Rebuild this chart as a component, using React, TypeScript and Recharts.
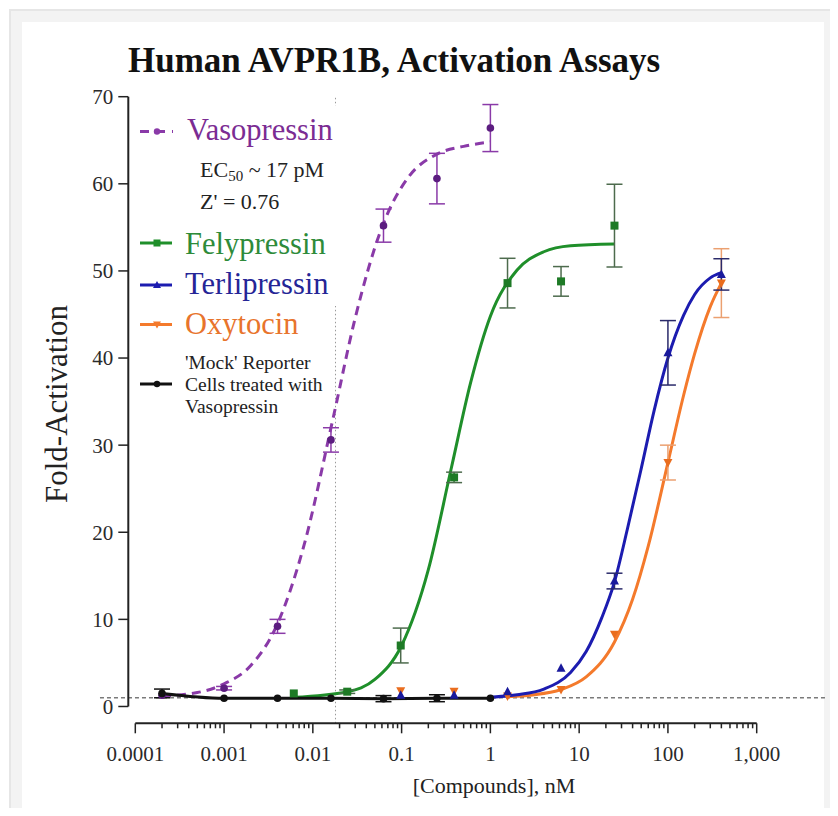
import {
  ComposedChart,
  Line,
  Scatter,
  XAxis,
  YAxis,
  ErrorBar,
  ReferenceLine,
} from "recharts";

const FONT = "'Liberation Serif', 'Times New Roman', serif";

// axis ranges (x is log, nM)
const X_MIN = 0.0000834;
const X_MAX = 1000;
const Y_MIN = -1.93;
const Y_MAX = 70;

const Y_TICKS = [0, 10, 20, 30, 40, 50, 60, 70];
const X_MAJOR = [0.0001, 0.001, 0.01, 0.1, 1, 10, 100, 1000];
const X_LABELS = ["0.0001", "0.001", "0.01", "0.1", "1", "10", "100", "1,000"];
const MINOR_STEPS = [1, 2, 3, 4, 5, 6, 7, 8, 9];

const EC50_X = 0.018;
const BASELINE_Y = 1;

// Vasopressin
const VASO_X = [0.0002, 0.001, 0.004, 0.016, 0.0625, 0.25, 1];
const VASO_Y = [1.3, 2.1, 9.2, 30.6, 55.2, 60.6, 66.4];
const VASO_ERR = [0, 0.2, 0.8, 1.4, 1.9, 2.9, 2.7];
const VASO_FIT_X = [0.0002, 0.0005, 0.001, 0.002, 0.004, 0.008, 0.017, 0.03, 0.06, 0.12, 0.25, 0.5, 1];
const VASO_FIT_Y = [1.2, 1.6, 2.6, 4.7, 9.5, 18.6, 33.2, 44.6, 55.0, 60.8, 63.4, 64.3, 64.8];

// Felypressin
const FELY_X = [0.0061, 0.0244, 0.0977, 0.39, 1.56, 6.25, 25];
const FELY_Y = [1.5, 1.7, 7.0, 26.3, 48.6, 48.8, 55.2];
const FELY_ERR = [0, 0.2, 2.0, 0.6, 2.85, 1.7, 4.75];
const FELY_FIT_X = [0.0061, 0.0244, 0.05, 0.1, 0.2, 0.36, 0.6, 1, 2, 4, 8, 25];
const FELY_FIT_Y = [1.05, 1.7, 3.1, 7.0, 15.7, 27.2, 37.2, 44.8, 50.1, 52.2, 52.9, 53.1];

// Terlipressin
const TERL_X = [0.0977, 0.39, 1.56, 6.25, 25, 100, 400];
const TERL_Y = [1.3, 1.3, 1.7, 4.4, 14.4, 40.6, 49.6];
const TERL_ERR = [0, 0, 0, 0, 0.9, 3.7, 1.8];
const TERL_FIT_X = [1, 2, 4, 8, 12, 18, 25, 35, 50, 70, 100, 150, 200, 300, 400];
const TERL_FIT_Y = [1.07, 1.35, 2.0, 3.9, 6.3, 10.2, 14.3, 20.4, 27.3, 34.0, 40.0, 44.9, 47.3, 49.2, 49.8];

// Oxytocin
const OXY_X = [0.0977, 0.39, 1.56, 6.25, 25, 100, 400];
const OXY_Y = [1.8, 1.75, 1.2, 1.95, 8.3, 28.0, 48.6];
const OXY_ERR = [0, 0, 0, 0, 0, 2.0, 3.95];
const OXY_FIT_X = [1.56, 3, 6.25, 12, 25, 40, 60, 100, 150, 200, 300, 400];
const OXY_FIT_Y = [1.13, 1.33, 1.95, 3.4, 7.4, 12.3, 18.4, 28.0, 35.7, 40.5, 45.9, 48.6];

// 'Mock' reporter cells treated with vasopressin
const MOCK_X = [0.0002, 0.001, 0.004, 0.016, 0.0625, 0.25, 1];
const MOCK_Y = [1.5, 0.95, 0.95, 0.95, 0.9, 0.95, 0.95];
const MOCK_ERR = [0.5, 0, 0, 0, 0.35, 0.4, 0];

const COLORS = {
  vaso: "#8a3aa8",
  vasoDot: "#5c1d80",
  vasoText: "#7b2c93",
  fely: "#1f8f2a",
  felyDot: "#1e7a26",
  felyErr: "#4d6b4d",
  felyText: "#2e8b3a",
  terl: "#1c1cb0",
  terlDot: "#1a1a9c",
  terlErr: "#2a2a6a",
  terlText: "#252596",
  oxy: "#f47a2c",
  oxyDot: "#ea6d1e",
  oxyErr: "#eba070",
  oxyText: "#e8742c",
  mock: "#111111",
  axis: "#222222",
};

const pts = (xs: number[], ys: number[], errs?: number[]) =>
  xs.map((x, i) => ({ x, y: ys[i], err: errs ? errs[i] : 0 }));

const X_TICKS = X_MAJOR.flatMap((d, i) =>
  i === X_MAJOR.length - 1 ? [d] : MINOR_STEPS.map((m) => m * d)
);

function XTick(props: any) {
  const { x, y, payload } = props;
  const v = payload.value;
  const idx = X_MAJOR.findIndex((m) => Math.abs(v / m - 1) < 1e-6);
  const len = idx >= 0 ? 10 : 5;
  return (
    <g>
      <line x1={x} x2={x} y1={y} y2={y + len} stroke={COLORS.axis} strokeWidth={1.5} />
      {idx >= 0 && (
        <text x={x} y={y + 30} dy="0.355em" textAnchor="middle" fontSize={21} fontFamily={FONT} fill="#2a2a2a">
          {X_LABELS[idx]}
        </text>
      )}
    </g>
  );
}

const circleShape = (c: string) => (p: any) => <circle cx={p.cx} cy={p.cy} r={3.8} fill={c} />;
const squareShape = (c: string) => (p: any) => (
  <rect x={p.cx - 4} y={p.cy - 4} width={8} height={8} fill={c} />
);
const triUpShape = (c: string) => (p: any) => (
  <polygon points={`${p.cx},${p.cy - 5} ${p.cx + 4.5},${p.cy + 3.5} ${p.cx - 4.5},${p.cy + 3.5}`} fill={c} />
);
const triDownShape = (c: string) => (p: any) => (
  <polygon points={`${p.cx},${p.cy + 5} ${p.cx + 4.5},${p.cy - 3.5} ${p.cx - 4.5},${p.cy - 3.5}`} fill={c} />
);

function LegendRow({ y, color, label, dashed, marker }: any) {
  return (
    <g>
      {dashed ? (
        <line x1={140} x2={173} y1={y} y2={y} stroke={color} strokeWidth={3} strokeDasharray="9 7" />
      ) : (
        <line x1={140} x2={172} y1={y} y2={y} stroke={color} strokeWidth={3} />
      )}
      {marker === "circle" && <circle cx={157} cy={y} r={3.2} fill={color} />}
      {marker === "square" && <rect x={153.5} y={y - 3.5} width={7} height={7} fill={color} />}
      {marker === "up" && <polygon points={`157,${y - 4} 161,${y + 3} 153,${y + 3}`} fill={color} />}
      {marker === "down" && <polygon points={`157,${y + 4} 161,${y - 3} 153,${y - 3}`} fill={color} />}
      {label}
    </g>
  );
}

export default function App() {
  return (
    <div style={{ position: "relative", width: 838, height: 816, margin: -8, background: "#fff", overflow: "hidden" }}>
      {/* frame */}
      <div style={{ position: "absolute", left: 9, top: 9, width: 829, height: 807, background: "#f3f3f3", borderTop: "2px solid #e6e6e6", borderLeft: "2px solid #e6e6e6", boxSizing: "border-box" }} />
      <div style={{ position: "absolute", left: 22, top: 22, width: 802, height: 794, background: "#fff" }} />

      <div style={{ position: "absolute", left: 0, top: 0 }}>
        <ComposedChart width={838} height={816} margin={{ top: 96.7, right: 81.3, bottom: 32.7, left: 68.3 }}>
          <XAxis
            dataKey="x"
            type="number"
            scale="log"
            domain={[X_MIN, X_MAX]}
            allowDataOverflow
            ticks={X_TICKS}
            interval={0}
            tick={<XTick />}
            tickSize={0}
            tickMargin={0}
            tickLine={false}
            axisLine={false}
            height={60}
          />
          <YAxis
            type="number"
            domain={[Y_MIN, Y_MAX]}
            allowDataOverflow
            ticks={Y_TICKS}
            interval={0}
            width={60}
            axisLine={false}
            tickSize={10}
            tickMargin={5}
            tickLine={{ stroke: COLORS.axis, strokeWidth: 1.5 }}
            tick={{ fill: "#2a2a2a", fontSize: 21, fontFamily: FONT }}
          />

          {/* reference lines */}
          <ReferenceLine
            segment={[{ x: 0.00004, y: BASELINE_Y }, { x: 6000, y: BASELINE_Y }]}
            ifOverflow="visible"
            stroke="#7a7a7a"
            strokeWidth={1.5}
            strokeDasharray="4 3"
          />
          <ReferenceLine
            segment={[{ x: EC50_X, y: Y_MIN }, { x: EC50_X, y: Y_MAX }]}
            ifOverflow="visible"
            stroke="#9a9a9a"
            strokeWidth={1}
            strokeDasharray="1.5 2.5"
          />
          {/* axis lines */}
          <ReferenceLine
            segment={[{ x: 0.0001, y: Y_MIN }, { x: 1000, y: Y_MIN }]}
            ifOverflow="visible"
            stroke={COLORS.axis}
            strokeWidth={2}
          />
          <ReferenceLine
            segment={[{ x: X_MIN, y: 0 }, { x: X_MIN, y: Y_MAX }]}
            ifOverflow="visible"
            stroke={COLORS.axis}
            strokeWidth={2}
          />

          {/* fitted curves */}
          <Line data={pts(OXY_FIT_X, OXY_FIT_Y)} dataKey="y" type="monotone" stroke={COLORS.oxy} strokeWidth={3} dot={false} activeDot={false} isAnimationActive={false} />
          <Line data={pts(TERL_FIT_X, TERL_FIT_Y)} dataKey="y" type="monotone" stroke={COLORS.terl} strokeWidth={3} dot={false} activeDot={false} isAnimationActive={false} />
          <Line data={pts(FELY_FIT_X, FELY_FIT_Y)} dataKey="y" type="monotone" stroke={COLORS.fely} strokeWidth={3} dot={false} activeDot={false} isAnimationActive={false} />
          <Line data={pts(VASO_FIT_X, VASO_FIT_Y)} dataKey="y" type="monotone" stroke={COLORS.vaso} strokeWidth={3} strokeDasharray="9 6" dot={false} activeDot={false} isAnimationActive={false} />
          <Line data={pts(MOCK_X, MOCK_Y)} dataKey="y" type="monotone" stroke={COLORS.mock} strokeWidth={3} dot={{ r: 2.8, fill: COLORS.mock, stroke: "none" }} activeDot={false} isAnimationActive={false} />

          {/* data points with SEM */}
          <Scatter data={pts(OXY_X, OXY_Y, OXY_ERR)} dataKey="y" shape={triDownShape(COLORS.oxyDot)} isAnimationActive={false}>
            <ErrorBar dataKey="err" direction="y" width={8} stroke={COLORS.oxyErr} strokeWidth={1.5} />
          </Scatter>
          <Scatter data={pts(TERL_X, TERL_Y, TERL_ERR)} dataKey="y" shape={triUpShape(COLORS.terlDot)} isAnimationActive={false}>
            <ErrorBar dataKey="err" direction="y" width={8} stroke={COLORS.terlErr} strokeWidth={1.5} />
          </Scatter>
          <Scatter data={pts(FELY_X, FELY_Y, FELY_ERR)} dataKey="y" shape={squareShape(COLORS.felyDot)} isAnimationActive={false}>
            <ErrorBar dataKey="err" direction="y" width={8} stroke={COLORS.felyErr} strokeWidth={1.5} />
          </Scatter>
          <Scatter data={pts(VASO_X, VASO_Y, VASO_ERR)} dataKey="y" shape={circleShape(COLORS.vasoDot)} isAnimationActive={false}>
            <ErrorBar dataKey="err" direction="y" width={8} stroke={COLORS.vaso} strokeWidth={1.5} />
          </Scatter>
          <Scatter data={pts(MOCK_X, MOCK_Y, MOCK_ERR)} dataKey="y" shape={circleShape(COLORS.mock)} isAnimationActive={false}>
            <ErrorBar dataKey="err" direction="y" width={8} stroke={COLORS.mock} strokeWidth={1.5} />
          </Scatter>
        </ComposedChart>
      </div>

      {/* titles and legend */}
      <svg width={838} height={816} style={{ position: "absolute", left: 0, top: 0, pointerEvents: "none" }} fontFamily={FONT}>
        <text x={128} y={72} fontSize={35} fontWeight="bold" fill="#111">
          Human AVPR1B, Activation Assays
        </text>
        <text x={0} y={0} transform="translate(56,404) rotate(-90)" textAnchor="middle" dy="0.35em" fontSize={31} fill="#222">
          Fold-Activation
        </text>
        <text x={494} y={793} textAnchor="middle" fontSize={22} fill="#222">
          [Compounds], nM
        </text>

        <rect x={136} y={106} width={212} height={200} fill="#fff" />
        <LegendRow y={131.5} color={COLORS.vaso} dashed marker="circle"
          label={<text x={187} y={140} fontSize={30.5} fill={COLORS.vasoText}>Vasopressin</text>} />
        <text x={200} y={177} fontSize={22} fill="#222">
          EC<tspan fontSize={15} dy={4}>50</tspan><tspan dy={-4}> ~ 17 pM</tspan>
        </text>
        <text x={200} y={208.5} fontSize={22} fill="#222">Z' = 0.76</text>
        <LegendRow y={243} color={COLORS.fely} marker="square"
          label={<text x={185} y={253.5} fontSize={30.5} fill={COLORS.felyText}>Felypressin</text>} />
        <LegendRow y={285} color={COLORS.terl} marker="up"
          label={<text x={185} y={293.5} fontSize={30.5} fill={COLORS.terlText}>Terlipressin</text>} />
        <LegendRow y={324.5} color={COLORS.oxy} marker="down"
          label={<text x={185} y={333.5} fontSize={30.5} fill={COLORS.oxyText}>Oxytocin</text>} />
        <LegendRow y={384} color={COLORS.mock} marker="circle"
          label={
            <g fontSize={19.5} fill="#222">
              <text x={185} y={369}>'Mock' Reporter</text>
              <text x={185} y={391}>Cells treated with</text>
              <text x={185} y={413}>Vasopressin</text>
            </g>
          } />
      </svg>
    </div>
  );
}
